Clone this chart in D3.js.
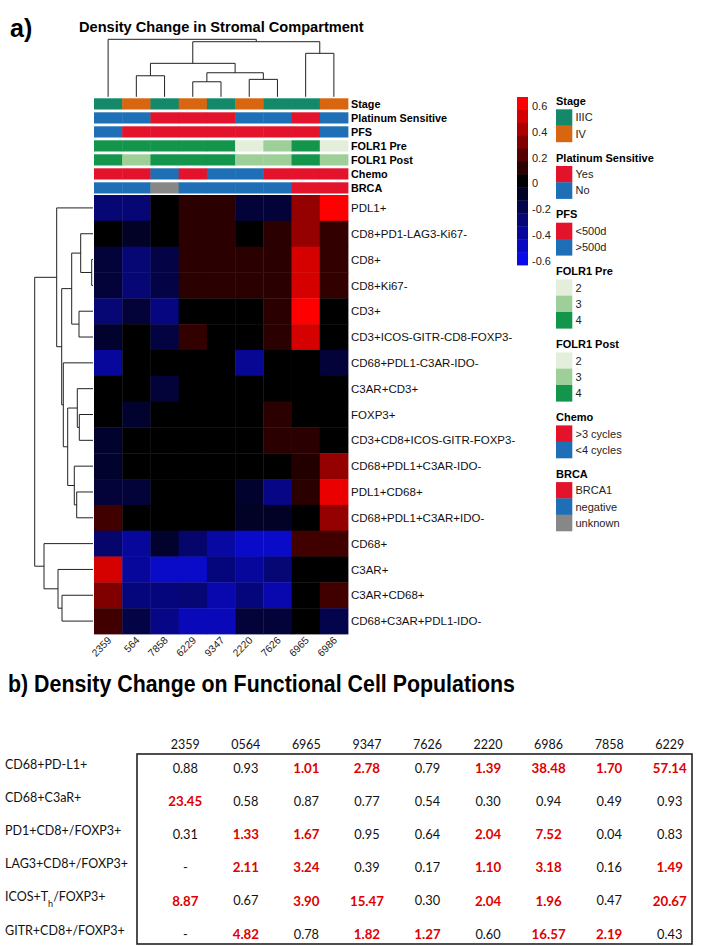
<!DOCTYPE html>
<html><head><meta charset="utf-8">
<script src="https://cdn.jsdelivr.net/npm/d3@7"></script>
<style>
body{margin:0;background:#fff;}
svg{display:block;font-family:"Liberation Sans",Arial,sans-serif;}
</style>
</head><body>
<svg id="c" width="703" height="946"></svg>
<script>
// ---------------- DATA ----------------
const samples = ["2359","564","7858","6229","9347","2220","7626","6965","6986"];
const markers = ["PDL1+","CD8+PD1-LAG3-Ki67-","CD8+","CD8+Ki67-","CD3+","CD3+ICOS-GITR-CD8-FOXP3-",
  "CD68+PDL1-C3AR-IDO-","C3AR+CD3+","FOXP3+","CD3+CD8+ICOS-GITR-FOXP3-","CD68+PDL1+C3AR-IDO-",
  "PDL1+CD68+","CD68+PDL1+C3AR+IDO-","CD68+","C3AR+","C3AR+CD68+","CD68+C3AR+PDL1-IDO-"];
const densityChange = [
  [-0.30,-0.30, 0.00, 0.10, 0.10,-0.15,-0.15, 0.35, 0.65],
  [ 0.00,-0.10, 0.00, 0.10, 0.10, 0.00, 0.10, 0.35, 0.12],
  [-0.15,-0.30,-0.18, 0.10, 0.10, 0.10, 0.10, 0.50, 0.12],
  [-0.15,-0.30,-0.18, 0.10, 0.10, 0.10, 0.10, 0.50, 0.12],
  [-0.30,-0.15,-0.33, 0.00, 0.00, 0.00, 0.10, 0.65, 0.00],
  [-0.12, 0.00,-0.17, 0.12, 0.00, 0.00, 0.10, 0.50, 0.00],
  [-0.40, 0.00, 0.00, 0.00, 0.00,-0.38, 0.00, 0.00,-0.15],
  [ 0.00, 0.00,-0.15, 0.00, 0.00, 0.00, 0.00, 0.00, 0.00],
  [ 0.00,-0.12, 0.00, 0.00, 0.00, 0.00, 0.10, 0.00, 0.00],
  [-0.12, 0.00, 0.00, 0.00, 0.00, 0.00, 0.10, 0.10, 0.00],
  [-0.12, 0.00, 0.00, 0.00, 0.00, 0.00, 0.00, 0.08, 0.35],
  [-0.15,-0.15, 0.00, 0.00, 0.00,-0.12,-0.35, 0.10, 0.55],
  [ 0.15, 0.00, 0.00, 0.00, 0.00,-0.10,-0.10, 0.00, 0.35],
  [-0.28,-0.40,-0.12,-0.28,-0.42,-0.52,-0.52, 0.15, 0.15],
  [ 0.50,-0.40,-0.52,-0.52,-0.32,-0.40,-0.30, 0.00, 0.00],
  [ 0.30,-0.32,-0.32,-0.30,-0.45,-0.32,-0.45, 0.00, 0.15],
  [ 0.15,-0.18,-0.35,-0.48,-0.48,-0.15,-0.15, 0.00,-0.20]
];
const annoNames = ["Stage","Platinum Sensitive","PFS","FOLR1 Pre","FOLR1 Post","Chemo","BRCA"];
const stage     = ["IIIC","IV","IIIC","IV","IIIC","IV","IIIC","IIIC","IV"];
const platinum  = ["No","No","Yes","Yes","Yes","No","No","Yes","No"];
const pfs       = [">500d","<500d","<500d","<500d","<500d","<500d","<500d","<500d",">500d"];
const folr1Pre  = ["4","4","4","4","4","2","3","4","2"];
const folr1Post = ["4","3","4","4","4","3","3","4","3"];
const chemo     = [">3 cycles",">3 cycles","<4 cycles",">3 cycles","<4 cycles","<4 cycles",">3 cycles",">3 cycles",">3 cycles"];
const brca      = ["negative","negative","unknown","negative","negative","negative","negative","BRCA1","BRCA1"];

const stageLevels = ["IIIC","IV"];
const platinumLevels = ["Yes","No"];
const pfsLevels = ["<500d",">500d"];
const folrLevels = ["2","3","4"];
const chemoLevels = [">3 cycles","<4 cycles"];
const brcaLevels = ["BRCA1","negative","unknown"];

// dendrograms: [height, left, right]; numbers are leaf indices
const colTree = [57.4, 0, [55, [33.4, [21, 1, 2], [24, [15, 3, 4], [17.4, 5, 6]]], [43.4, 7, 8]]];
const rowTree = [58.3,
  [36.3, 0, [31.3,
     [21.3, [12.3, 1, [1.3, 2, 3]], [14, 4, 5]],
     [29.7, 6, [25.3, [15.7, 7, [13.7, 8, 9]], [18.7, 10, [16.3, 11, 12]]]]]],
  [49, 13, [35, 14, [31, 15, 16]]]];

const colorTicks = [0.6,0.4,0.2,0,-0.2,-0.4,-0.6];
const colorSteps = [0.6,0.5,0.4,0.3,0.2,0.1,0,-0.1,-0.2,-0.3,-0.4,-0.5,-0.6];

const tableCols = ["2359","0564","6965","9347","7626","2220","6986","7858","6229"];
const tableRows = ["CD68+PD-L1+","CD68+C3aR+","PD1+CD8+/FOXP3+","LAG3+CD8+/FOXP3+","ICOS+T_h/FOXP3+","GITR+CD8+/FOXP3+"];
const tCD68PDL1 = [0.88,0.93,1.01,2.78,0.79,1.39,38.48,1.70,57.14];
const tCD68C3aR = [23.45,0.58,0.87,0.77,0.54,0.30,0.94,0.49,0.93];
const tPD1CD8   = [0.31,1.33,1.67,0.95,0.64,2.04,7.52,0.04,0.83];
const tLAG3CD8  = [null,2.11,3.24,0.39,0.17,1.10,3.18,0.16,1.49];
const tICOSTh   = [8.87,0.67,3.90,15.47,0.30,2.04,1.96,0.47,20.67];
const tGITRCD8  = [null,4.82,0.78,1.82,1.27,0.60,16.57,2.19,0.43];
const tableValues = [tCD68PDL1,tCD68C3aR,tPD1CD8,tLAG3CD8,tICOSTh,tGITRCD8];

// ---------------- DRAWING ----------------
const svg = d3.select("#c");
const RED="#e2132b", BLUE="#1f6fb6";
const annoColor = [
  d3.scaleOrdinal(stageLevels,["#13896a","#d8650f"]),
  d3.scaleOrdinal(platinumLevels,[RED,BLUE]),
  d3.scaleOrdinal(pfsLevels,[RED,BLUE]),
  d3.scaleOrdinal(folrLevels,["#e3eedb","#9ecf98","#13954c"]),
  d3.scaleOrdinal(folrLevels,["#e3eedb","#9ecf98","#13954c"]),
  d3.scaleOrdinal(chemoLevels,[RED,BLUE]),
  d3.scaleOrdinal(brcaLevels,[RED,BLUE,"#878787"])
];
const annoData = [stage,platinum,pfs,folr1Pre,folr1Post,chemo,brca];
const legendLevels = [stageLevels,platinumLevels,pfsLevels,folrLevels,folrLevels,chemoLevels,brcaLevels];

const x = d3.scaleBand(d3.range(samples.length),[94,348]);
const y = d3.scaleBand(d3.range(markers.length),[195,634]);
const ya = d3.scaleBand(d3.range(annoNames.length),[98.3,193.5]).paddingInner(0.2).paddingOuter(0);
const heat = d3.scaleLinear([-0.6,0,0.6],["#0b0be8","#000000","#ff0000"]).clamp(true);

// titles
svg.append("text").attr("x",10).attr("y",37).attr("font-size",25).attr("font-weight","bold").text("a)");
svg.append("text").attr("x",79).attr("y",32).attr("font-size",14.6).attr("font-weight","bold").text("Density Change in Stromal Compartment");

// annotations
annoData.forEach((arr,k)=>{
  svg.append("g").selectAll("rect").data(arr).join("rect")
    .attr("x",(d,i)=>x(i)).attr("y",ya(k)).attr("width",x.bandwidth()+0.4).attr("height",ya.bandwidth())
    .attr("fill",d=>annoColor[k](d));
  svg.append("text").attr("x",351).attr("y",ya(k)+ya.bandwidth()/2).attr("dy","0.36em")
    .attr("font-size",10.8).attr("font-weight","bold").text(annoNames[k]);
});

// heatmap
svg.append("g").selectAll("g").data(densityChange).join("g")
  .each(function(row,r){
    d3.select(this).selectAll("rect").data(row).join("rect")
      .attr("x",(d,i)=>x(i)).attr("y",y(r)).attr("width",x.bandwidth()+0.4).attr("height",y.bandwidth()+0.4)
      .attr("fill",d=>heat(d));
  });
svg.append("g").selectAll("text").data(markers).join("text")
  .attr("x",351).attr("y",(d,i)=>y(i)+y.bandwidth()/2).attr("dy","0.36em")
  .attr("font-size",11.5).attr("fill","#111").text(d=>d);
svg.append("g").selectAll("text").data(samples).join("text")
  .attr("transform",(d,i)=>`translate(${x(i)+x.bandwidth()/2+4},${641}) rotate(-45)`)
  .attr("text-anchor","end").attr("font-size",10.3).attr("fill","#222").text(d=>d);

// dendrograms
function dendro(node, posOf, g, orient, hs){
  if(typeof node==="number") return {p:posOf(node), h:0};
  const [h,...kids] = node;
  const res = kids.map(k=>dendro(k,posOf,g,orient,hs));
  const lines = [];
  res.forEach(c=>lines.push([c.p,c.h,c.p,h]));
  lines.push([res[0].p,h,res[res.length-1].p,h]);
  lines.forEach(([p1,h1,p2,h2])=>{
    const l = g.append("line").attr("stroke","#222").attr("stroke-width",1);
    if(orient==="top") l.attr("x1",p1).attr("x2",p2).attr("y1",hs(h1)).attr("y2",hs(h2));
    else l.attr("y1",p1).attr("y2",p2).attr("x1",hs(h1)).attr("x2",hs(h2));
  });
  return {p:(res[0].p+res[res.length-1].p)/2, h};
}
dendro(colTree, i=>x(i)+x.bandwidth()/2, svg.append("g"), "top", d3.scaleLinear([0,57.4],[96.8,39.3]));
dendro(rowTree, i=>y(i)+y.bandwidth()/2, svg.append("g"), "left", d3.scaleLinear([0,58.3],[93,34.7]));

// colour bar
const cb = d3.scaleBand(colorSteps,[97,265]);
svg.append("g").selectAll("rect").data(colorSteps).join("rect")
  .attr("x",517).attr("y",d=>cb(d)).attr("width",11).attr("height",cb.bandwidth()+0.4).attr("fill",d=>heat(d));
svg.append("g").selectAll("text").data(colorTicks).join("text")
  .attr("x",532).attr("y",d=>cb(d)+cb.bandwidth()/2+2.5).attr("dy","0.36em")
  .attr("font-size",11).attr("fill","#222").text(d=>String(d));

// legends
let ly = 105;
annoNames.forEach((name,k)=>{
  svg.append("text").attr("x",556).attr("y",ly).attr("font-size",11).attr("font-weight","bold").text(name);
  const lv = legendLevels[k];
  const sy = d3.scaleBand(lv,[ly+4.3, ly+4.3+16.3*lv.length]);
  const g = svg.append("g");
  g.selectAll("rect").data(lv).join("rect").attr("x",556).attr("y",d=>sy(d)).attr("width",16.3).attr("height",sy.bandwidth()+0.3)
    .attr("fill",d=>annoColor[k](d));
  g.selectAll("text").data(lv).join("text").attr("x",575.5).attr("y",d=>sy(d)+sy.bandwidth()/2).attr("dy","0.36em")
    .attr("font-size",11).attr("fill","#222").text(d=>d);
  ly = ly+4.3+16.3*lv.length+19.8;
});

// ---------------- PART b table ----------------
svg.append("text").attr("x",8).attr("y",692).attr("font-size",23).attr("font-weight","bold")
  .attr("textLength",507).attr("lengthAdjust","spacingAndGlyphs")
  .text("b) Density Change on Functional Cell Populations");

const tx = d3.scaleBand(tableCols,[155,700]);
const ty = d3.scaleBand(d3.range(tableRows.length),[747.4,946.6]);
svg.append("g").selectAll("text").data(tableCols).join("text")
  .attr("x",d=>tx(d)+tx.bandwidth()/2).attr("y",749).attr("text-anchor","middle")
  .attr("font-family","Lato, 'Open Sans', sans-serif").attr("font-size",12.5).attr("fill","#111").text(d=>d);
svg.append("rect").attr("x",137).attr("y",754).attr("width",555).attr("height",190)
  .attr("fill","none").attr("stroke","#222").attr("stroke-width",1.6);
const fmt = d3.format(".2f");
tableRows.forEach((lab,r)=>{
  const cy = ty(r)+ty.bandwidth()/2;
  const t = svg.append("text").attr("x",5).attr("y",cy).attr("dy","0.36em")
    .attr("font-family","Lato, 'Open Sans', sans-serif").attr("font-size",12.5).attr("fill","#111");
  lab.split(/(_\w)/).forEach(part=>{
    if(part.startsWith("_")) t.append("tspan").attr("baseline-shift","sub").attr("font-size",9).text(part.slice(1));
    else if(part) t.append("tspan").text(part);
  });
  svg.append("g").selectAll("text").data(tableValues[r]).join("text")
    .attr("x",(d,i)=>tx(tableCols[i])+tx.bandwidth()/2).attr("y",cy+4).attr("dy","0.36em")
    .attr("text-anchor","middle").attr("font-family","Lato, 'Open Sans', sans-serif")
    .attr("font-size",d=>d!==null&&d>1?13.3:12.8)
    .attr("font-weight",d=>d!==null&&d>1?"bold":"normal")
    .attr("fill",d=>d!==null&&d>1?"#e00000":"#111")
    .text(d=>d===null?"-":fmt(d));
});
</script>
</body></html>
